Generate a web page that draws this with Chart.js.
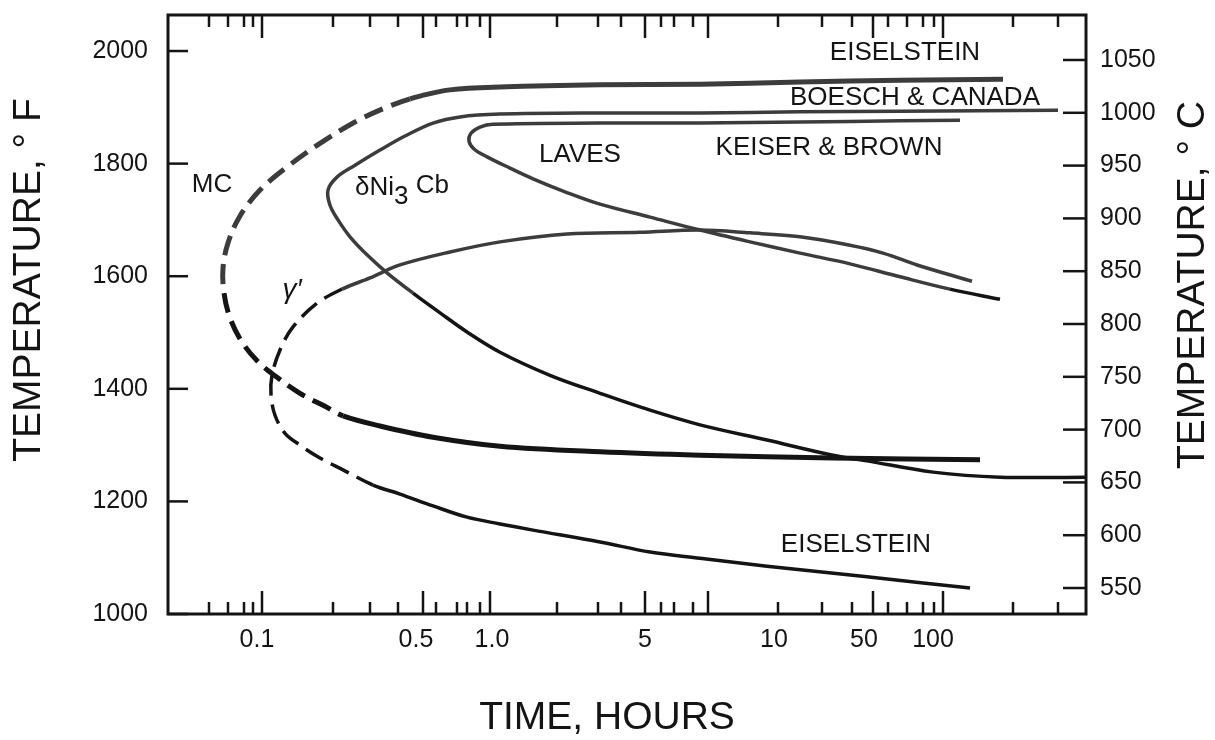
<!DOCTYPE html>
<html>
<head>
<meta charset="utf-8">
<script src="https://cdn.jsdelivr.net/npm/chart.js@4.4.0/dist/chart.umd.min.js"></script>
<style>
  html, body { margin: 0; padding: 0; background: #fff; }
  #wrap { width: 1215px; height: 740px; }
</style>
</head>
<body>
<div id="wrap"><canvas id="ttt"></canvas></div>
<script>
// The time axis of the original figure is not a clean log scale, so time is kept
// in axis units along the frame (0 = left edge, 918 = right edge) and labelled by hand.
const timeTickPos = [89, 248, 324, 477, 606, 696, 765];
const timeTickLabels = ['0.1', '0.5', '1.0', '5', '10', '50', '100'];
const timeMajorMarks = [94, 255, 322, 477, 540, 705, 775];
const timeMinorMarks = [41, 60, 76, 85, 165, 202, 230, 268, 289, 299, 312, 389, 430, 453,
                        493, 506, 525, 610, 654, 684, 720, 739, 755, 766, 845, 890];
const fTicks = [1000, 1200, 1400, 1600, 1800, 2000];
const cTicks = [550, 600, 650, 700, 750, 800, 850, 900, 950, 1000, 1050];

// MC curve (Eiselstein, top)
const mcTime = [835, 732, 632, 532, 432, 332, 282, 252, 242, 217, 187, 152, 119, 92, 72, 60,
                55, 56, 62, 74, 90, 107, 132, 157, 175, 212, 265, 332, 432, 532, 665, 812];
const mcTemp = [1950, 1948, 1945, 1941, 1940, 1936, 1931, 1920, 1915, 1899, 1874, 1836, 1794, 1753, 1707, 1659,
                1614, 1570, 1526, 1483, 1448, 1423, 1392, 1369, 1352, 1334, 1314, 1298, 1288, 1282, 1277, 1274];

// gamma prime curve (Eiselstein, bottom)
const gammaTime = [804, 749, 715, 682, 632, 582, 532, 472, 399, 332, 282, 232, 202, 174, 149, 125, 112, 104,
                   103, 107, 117, 132, 152, 175, 205, 232, 265, 299, 332, 365, 432, 482, 532, 599, 699, 802];
const gammaTemp = [1591, 1620, 1641, 1655, 1670, 1677, 1682, 1678, 1675, 1661, 1643, 1620, 1597, 1577, 1552, 1510, 1469, 1424,
                   1389, 1353, 1321, 1300, 1277, 1256, 1229, 1213, 1192, 1172, 1160, 1149, 1128, 1110, 1099, 1085, 1066, 1046];

// delta Ni3Cb curve (Boesch & Canada)
const deltaTime = [890, 732, 632, 532, 432, 332, 292, 265, 237, 212, 187, 169, 160, 162, 170, 182,
                   199, 219, 245, 272, 299, 332, 382, 432, 482, 532, 599, 665, 699, 765, 832, 918];
const deltaTemp = [1895, 1893, 1892, 1890, 1890, 1888, 1883, 1872, 1849, 1824, 1797, 1776, 1753, 1726, 1700, 1670,
                   1638, 1606, 1570, 1535, 1501, 1465, 1424, 1392, 1362, 1336, 1309, 1282, 1272, 1252, 1243, 1243];

// Laves curve (Keiser & Brown)
const lavesTime = [792, 732, 632, 532, 432, 325, 312, 303, 301, 306, 319, 342, 365, 397, 432, 482,
                   532, 582, 632, 682, 732, 782, 832];
const lavesTemp = [1877, 1876, 1874, 1872, 1872, 1870, 1865, 1854, 1840, 1826, 1812, 1792, 1773, 1750, 1728, 1705,
                   1682, 1661, 1641, 1622, 1599, 1577, 1559];

const FONT = "'Liberation Sans', Arial, Helvetica, sans-serif";
const INK = '#141414';
const TICK_FONT = { family: FONT, size: 25 };

// labels placed in data units (time position, deg F)
const curveLabels = [
    { text: 'EISELSTEIN', t: 737, f: 1996 },
    { text: 'BOESCH & CANADA', t: 747, f: 1916 },
    { text: 'KEISER & BROWN', t: 661, f: 1828 },
    { text: 'LAVES', t: 412, f: 1815 },
    { text: 'MC', t: 44, f: 1762 },
    { text: 'EISELSTEIN', t: 688, f: 1123 }
];

function curve(label, xs, ys, width, dash) {
    return {
        label: label,
        data: xs.map((x, i) => ({ x: x, y: ys[i] })),
        showLine: true,
        pointRadius: 0,
        borderWidth: width,
        borderColor: INK,
        tension: 0.35,
        segment: {
            borderDash: c => (dash && c.p0DataIndex >= dash[0] && c.p0DataIndex < dash[1]) ? [20, 9] : undefined,
            borderColor: c => (c.p0.parsed.y > 1560 && c.p1.parsed.y > 1560) ? '#3c3c3c' : undefined
        }
    };
}

function noPad(s) {
    s.paddingTop = 0; s.paddingBottom = 0; s.paddingLeft = 0; s.paddingRight = 0;
}

const decor = {
    id: 'decor',
    afterDraw(chart) {
        const { ctx, chartArea: a, scales } = chart;
        const xs = scales.x, yf = scales.y, yc = scales.yc;
        ctx.save();
        ctx.strokeStyle = INK;
        ctx.lineCap = 'butt';

        // time marks on top and bottom edges, pointing inward
        ctx.lineWidth = 2.5;
        const mark = (v, len) => {
            const px = xs.getPixelForValue(v);
            ctx.beginPath();
            ctx.moveTo(px, a.bottom); ctx.lineTo(px, a.bottom - len);
            ctx.moveTo(px, a.top); ctx.lineTo(px, a.top + len);
            ctx.stroke();
        };
        timeMinorMarks.forEach(v => mark(v, 12));
        timeMajorMarks.forEach(v => mark(v, 23));

        // temperature marks, pointing inward
        fTicks.forEach(v => {
            const py = yf.getPixelForValue(v);
            ctx.beginPath(); ctx.moveTo(a.left, py); ctx.lineTo(a.left + 20, py); ctx.stroke();
        });
        cTicks.forEach(v => {
            const py = yc.getPixelForValue(v);
            ctx.beginPath(); ctx.moveTo(a.right - 23, py); ctx.lineTo(a.right, py); ctx.stroke();
        });

        // frame
        ctx.lineWidth = 3;
        ctx.strokeRect(a.left, a.top, a.right - a.left, a.bottom - a.top);

        // curve labels
        ctx.fillStyle = INK;
        ctx.font = '26px ' + FONT;
        ctx.textAlign = 'center';
        ctx.textBaseline = 'middle';
        curveLabels.forEach(l => {
            ctx.fillText(l.text, xs.getPixelForValue(l.t), yf.getPixelForValue(l.f));
        });

        // delta Ni3 Cb with subscript
        ctx.textAlign = 'left';
        let lx = xs.getPixelForValue(187);
        const ly = yf.getPixelForValue(1757);
        ctx.fillText('\u03b4Ni', lx, ly);
        lx += ctx.measureText('\u03b4Ni').width;
        ctx.fillText('3', lx, ly + 9);
        lx += ctx.measureText('3 ').width;
        ctx.fillText('Cb', lx, ly - 2);

        // gamma prime
        ctx.textAlign = 'center';
        ctx.font = 'italic 28px ' + FONT;
        ctx.fillText('\u03b3\u2032', xs.getPixelForValue(124), yf.getPixelForValue(1575));

        // axis titles
        ctx.font = '39px ' + FONT;
        ctx.fillText('TIME, HOURS', 607, 718);
        ctx.save();
        ctx.translate(29, 280);
        ctx.rotate(-Math.PI / 2);
        ctx.fillText('TEMPERATURE, \u00b0 F', 0, 0);
        ctx.restore();
        ctx.save();
        ctx.translate(1193, 285);
        ctx.rotate(-Math.PI / 2);
        ctx.fillText('TEMPERATURE, \u00b0 C', 0, 0);
        ctx.restore();

        ctx.restore();
    }
};

Chart.defaults.font.family = FONT;
Chart.defaults.font.size = 25;
Chart.defaults.color = INK;

new Chart(document.getElementById('ttt'), {
    type: 'scatter',
    data: {
        datasets: [
            curve('MC', mcTime, mcTemp, 5, [8, 24]),
            curve('\u03b3\u2032', gammaTime, gammaTemp, 3.5, [13, 24]),
            curve('\u03b4Ni3Cb', deltaTime, deltaTemp, 3.5, null),
            curve('Laves', lavesTime, lavesTemp, 3.5, null)
        ]
    },
    options: {
        responsive: true,
        maintainAspectRatio: false,
        animation: false,
        layout: { padding: { top: 15, left: 0, right: 0, bottom: 0 } },
        plugins: { legend: { display: false }, tooltip: { enabled: false } },
        scales: {
            x: {
                type: 'linear', min: 0, max: 918,
                grid: { display: false, drawTicks: false },
                border: { display: false },
                afterBuildTicks: s => { s.ticks = timeTickPos.map(v => ({ value: v })); },
                afterFit: s => { s.height = 126; noPad(s); },
                ticks: {
                    padding: 11, maxRotation: 0, autoSkip: false, font: TICK_FONT,
                    callback: v => timeTickLabels[timeTickPos.indexOf(v)]
                }
            },
            y: {
                position: 'left', min: 1000, max: 2064,
                grid: { display: false, drawTicks: false },
                border: { display: false },
                afterBuildTicks: s => { s.ticks = fTicks.map(v => ({ value: v })); },
                afterFit: s => { s.width = 168; noPad(s); },
                ticks: { padding: 20, font: TICK_FONT, callback: v => String(v) }
            },
            yc: {
                position: 'right', min: 525.4, max: 1092.6,
                grid: { display: false, drawTicks: false },
                border: { display: false },
                afterBuildTicks: s => { s.ticks = cTicks.map(v => ({ value: v })); },
                afterFit: s => { s.width = 129; noPad(s); },
                ticks: { padding: 14, font: TICK_FONT, callback: v => String(v) }
            }
        }
    },
    plugins: [decor]
});
</script>
</body>
</html>
